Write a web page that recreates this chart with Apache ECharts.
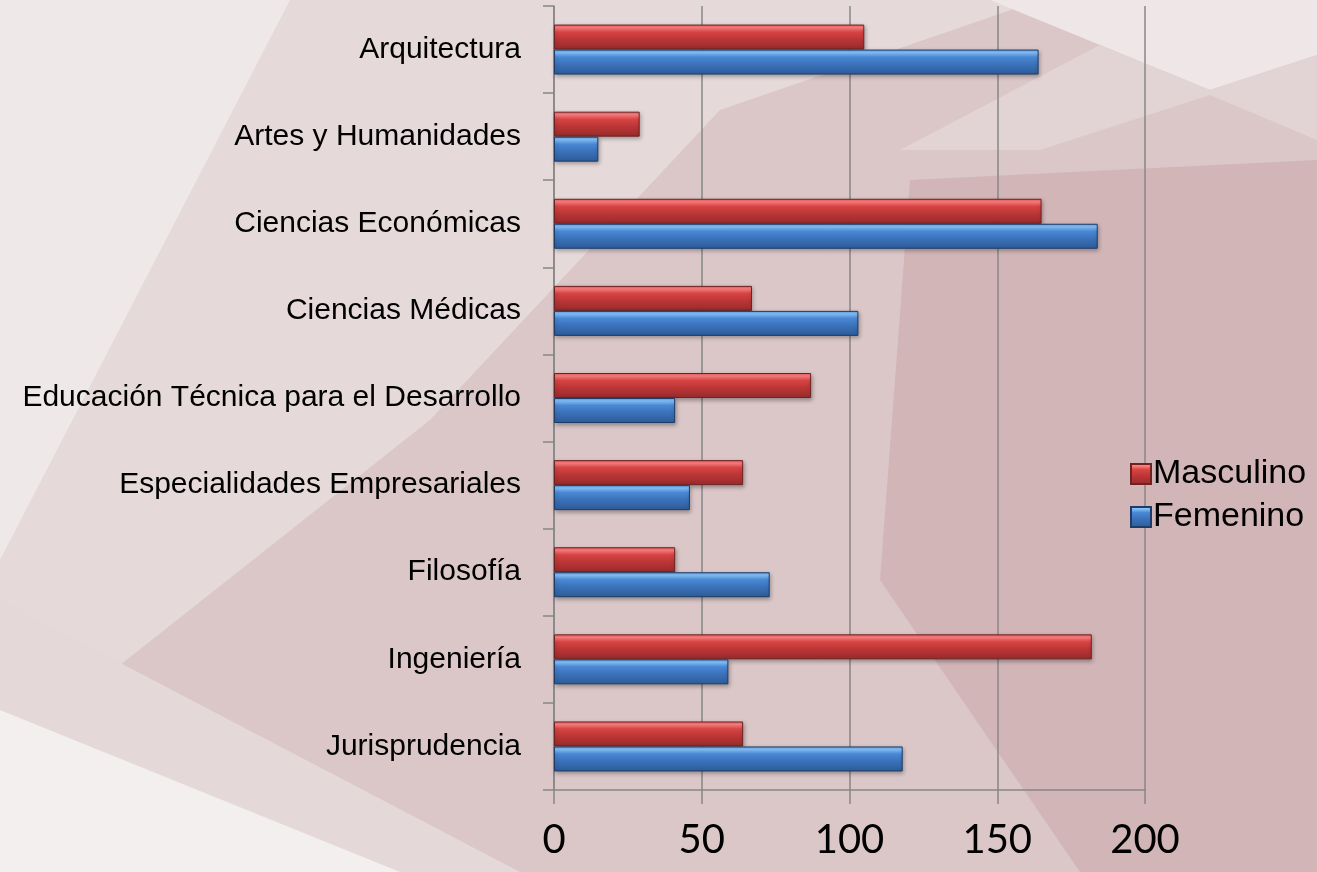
<!DOCTYPE html>
<html>
<head>
<meta charset="utf-8">
<script src="https://cdn.jsdelivr.net/npm/echarts@6/dist/echarts.min.js"></script>
<style>
html,body{margin:0;padding:0;background:#dcc7c8;}
#chart{width:1317px;height:872px;}
</style>
</head>
<body>
<div id="chart"></div>
<script>
const categories = ['Arquitectura','Artes y Humanidades','Ciencias Económicas','Ciencias Médicas','Educación Técnica para el Desarrollo','Especialidades Empresariales','Filosofía','Ingeniería','Jurisprudencia'];
const masculino = [105, 29, 165, 67, 87, 64, 41, 182, 64];
const femenino = [164, 15, 184, 103, 41, 46, 73, 59, 118];
const seriesNames = ['Masculino', 'Femenino'];
const xTicks = [0, 50, 100, 150, 200];

const chart = echarts.init(document.getElementById('chart'), null, {renderer: 'canvas'});

function poly(points, fill) {
  return {type: 'polygon', shape: {points: points}, style: {fill: fill}, silent: true, z: -100};
}
const bg = [
  {type: 'rect', shape: {x: 0, y: 0, width: 1317, height: 872}, style: {fill: '#dbc7c8'}, silent: true, z: -100},
  poly([[0,0],[1040,0],[720,110],[430,420],[0,760]], '#e5d9da'),
  poly([[0,0],[290,0],[0,560]], '#eee8e8'),
  poly([[990,0],[1317,0],[1317,55],[1210,90],[1100,45]], '#eee6e7'),
  poly([[1100,45],[1210,90],[1317,55],[1317,140],[1210,95],[1040,150],[900,150]], '#e2d4d5'),
  poly([[910,180],[1317,160],[1317,872],[1080,872],[880,580]], '#d2b5b7'),
  poly([[0,600],[520,872],[0,872]], '#e4d8d9'),
  poly([[0,710],[400,872],[0,872]], '#f3efef')
];

const redGrad = new echarts.graphic.LinearGradient(0, 0, 0, 1, [
  {offset: 0, color: '#e85656'}, {offset: 0.12, color: '#ff8282'}, {offset: 0.3, color: '#d84444'},
  {offset: 0.6, color: '#bb3535'}, {offset: 1, color: '#982b2c'}
]);
const blueGrad = new echarts.graphic.LinearGradient(0, 0, 0, 1, [
  {offset: 0, color: '#5d9fe6'}, {offset: 0.12, color: '#86c3fc'}, {offset: 0.3, color: '#4a88d5'},
  {offset: 0.6, color: '#3a71b9'}, {offset: 1, color: '#2d5c98'}
]);

const option = {
  animation: false,
  graphic: {elements: bg},
  grid: {left: 554, right: 172, top: 6, bottom: 82, containLabel: false, outerBoundsMode: 'none'},
  legend: {
    orient: 'vertical', left: 1125, top: 451, itemWidth: 20, itemHeight: 20, itemGap: 7,
    icon: 'rect', data: seriesNames,
    textStyle: {fontFamily: '"Liberation Sans", Arial, sans-serif', fontSize: 34, lineHeight: 36, color: '#000', padding: [0,0,0,-3]}
  },
  xAxis: {
    type: 'value', min: xTicks[0], max: xTicks[xTicks.length - 1], interval: 50,
    axisLine: {show: true, lineStyle: {color: '#878787', width: 1.5}},
    axisTick: {show: true, length: 14, lineStyle: {color: '#878787', width: 1.5}},
    splitLine: {show: true, lineStyle: {color: '#878787', width: 1.5}},
    axisLabel: {fontFamily: 'Lato, "Open Sans", sans-serif', fontSize: 40, color: '#000', margin: 30}
  },
  yAxis: {
    type: 'category', data: categories, inverse: true,
    axisLine: {show: true, lineStyle: {color: '#878787', width: 1.5}},
    axisTick: {show: true, length: 11, lineStyle: {color: '#878787', width: 1.5}},
    axisLabel: {fontFamily: '"Liberation Sans", Arial, sans-serif', fontSize: 30, color: '#000', margin: 33, padding: [8,0,0,0]}
  },
  series: [
    {name: seriesNames[0], type: 'bar', data: masculino, barWidth: 25, barGap: '0%',
     itemStyle: {color: redGrad, borderColor: '#6e2323', borderWidth: 1, shadowBlur: 4, shadowColor: 'rgba(0,0,0,0.3)', shadowOffsetY: 2, shadowOffsetX: 1}},
    {name: seriesNames[1], type: 'bar', data: femenino, barWidth: 25, barGap: '0%',
     itemStyle: {color: blueGrad, borderColor: '#1e3c68', borderWidth: 1, shadowBlur: 4, shadowColor: 'rgba(0,0,0,0.3)', shadowOffsetY: 2, shadowOffsetX: 1}}
  ]
};
chart.setOption(option);
</script>
</body>
</html>
